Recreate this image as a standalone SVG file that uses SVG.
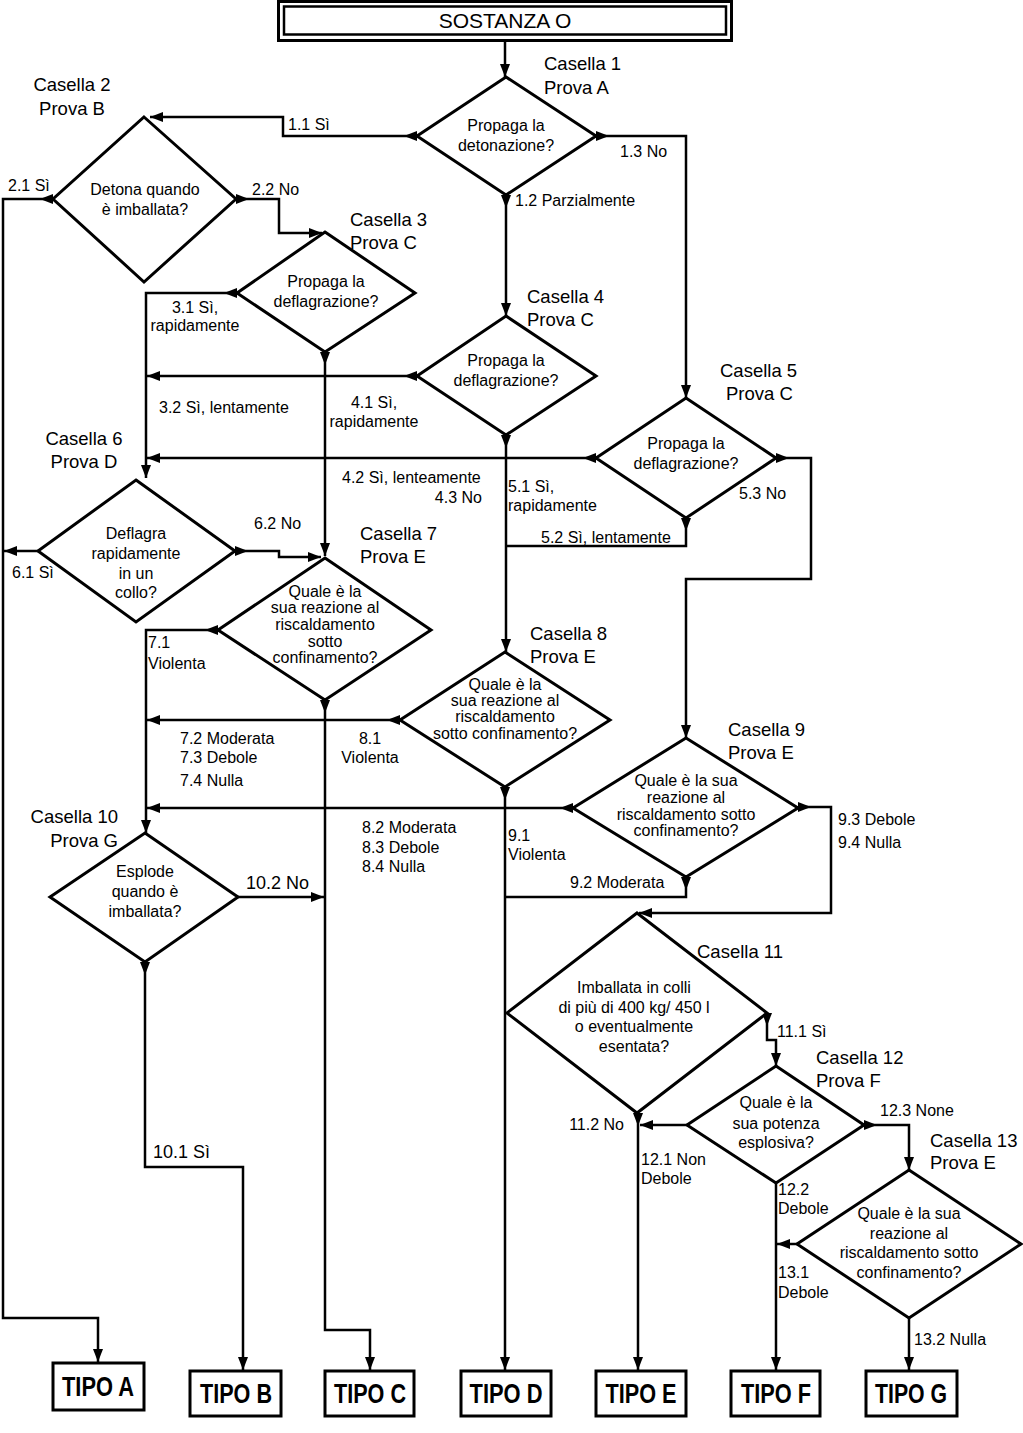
<svg xmlns="http://www.w3.org/2000/svg" width="1023" height="1433" viewBox="0 0 1023 1433">
<style>
.d{fill:#fff;stroke:#000;stroke-width:3}
.b{fill:#fff;stroke:#000;stroke-width:3}
.c{fill:none;stroke:#000;stroke-width:2.5;marker-end:url(#ae)}
.s{marker-start:url(#as)}
.n{marker-end:none}
text{font-family:"Liberation Sans",Arial,sans-serif;fill:#000}
.q{font-size:16px;text-anchor:middle}
.l{font-size:16px}
.h{font-size:18.5px}
.g{font-size:18px}
.tipo{font-size:27px;font-weight:bold;text-anchor:middle}
</style>
<defs>
<marker id="ae" markerUnits="userSpaceOnUse" markerWidth="13" markerHeight="10" refX="13" refY="5" orient="auto"><path d="M0,0 L13,5 L0,10 z" fill="#000"/></marker>
<marker id="as" markerUnits="userSpaceOnUse" markerWidth="13" markerHeight="10" refX="0" refY="5" orient="auto"><path d="M0,0 L13,5 L0,10 z" fill="#000"/></marker>
</defs>
<rect width="1023" height="1433" fill="#fff"/>

<g id="connectors">
<path class="c" d="M505,41 V77"/>
<path class="c s" d="M417,136 H283 V117 H150"/>
<path class="c s" d="M506,195 V316"/>
<path class="c s" d="M596,136 H686 V398"/>
<path class="c s" d="M53,199 H3 V1318 H98 V1362"/>
<path class="c s" d="M236,199 H279 V233 H322"/>
<path class="c s" d="M237,293 H146 V478"/>
<path class="c s" d="M325,352 V556"/>
<path class="c s" d="M417,376 H147"/>
<path class="c s" d="M506,435 V652"/>
<path class="c s" d="M596,458 H147"/>
<path class="c s n" d="M686,518 V546 H506"/>
<path class="c s" d="M776,458 H811 V579 H686 V738"/>
<path class="c" d="M38,551 H4"/>
<path class="c s" d="M235,551 H279 V557 H321"/>
<path class="c s" d="M218,630 H146 V833"/>
<path class="c s" d="M325,700 V1330 H370 V1370"/>
<path class="c s" d="M400,720 H147"/>
<path class="c s" d="M505,787 V1370"/>
<path class="c s" d="M573,808 H147"/>
<path class="c s n" d="M686,877 V897 H506"/>
<path class="c s" d="M798,807 H831 V913 H639"/>
<path class="c" d="M238,897 H324"/>
<path class="c s" d="M145,962 V1167 H243 V1370"/>
<path class="c s" d="M767,1013 V1040 H776 V1066"/>
<path class="c s" d="M638,1113 V1370"/>
<path class="c" d="M687,1125 H640"/>
<path class="c" d="M776,1183 V1370"/>
<path class="c s" d="M864,1125 H909 V1170"/>
<path class="c" d="M797,1244 H777"/>
<path class="c" d="M909,1318 V1370"/>
</g>

<g id="connector-labels">
<text class="l" x="288" y="130">1.1 Sì</text>
<text class="l" x="515" y="206">1.2 Parzialmente</text>
<text class="l" x="620" y="157">1.3 No</text>
<text class="l" x="8" y="191">2.1 Sì</text>
<text class="l" x="252" y="195">2.2 No</text>
<text class="q" x="195" y="313">3.1 Sì,</text>
<text class="q" x="195" y="331">rapidamente</text>
<text class="l" x="159" y="413">3.2 Sì, lentamente</text>
<text class="q" x="374" y="408">4.1 Sì,</text>
<text class="q" x="374" y="427">rapidamente</text>
<text class="l" x="342" y="483">4.2 Sì, lenteamente</text>
<text class="l" x="482" y="503" text-anchor="end">4.3 No</text>
<text class="l" x="508" y="492">5.1 Sì,</text>
<text class="l" x="508" y="511">rapidamente</text>
<text class="l" x="541" y="543">5.2 Sì, lentamente</text>
<text class="l" x="739" y="499">5.3 No</text>
<text class="l" x="12" y="578">6.1 Sì</text>
<text class="l" x="254" y="529">6.2 No</text>
<text class="l" x="148" y="648">7.1</text>
<text class="l" x="148" y="669">Violenta</text>
<text class="l" x="180" y="744">7.2 Moderata</text>
<text class="l" x="180" y="763">7.3 Debole</text>
<text class="l" x="180" y="786">7.4 Nulla</text>
<text class="q" x="370" y="744">8.1</text>
<text class="q" x="370" y="763">Violenta</text>
<text class="l" x="362" y="833">8.2 Moderata</text>
<text class="l" x="362" y="853">8.3 Debole</text>
<text class="l" x="362" y="872">8.4 Nulla</text>
<text class="l" x="508" y="841">9.1</text>
<text class="l" x="508" y="860">Violenta</text>
<text class="l" x="570" y="888">9.2 Moderata</text>
<text class="l" x="838" y="825">9.3 Debole</text>
<text class="l" x="838" y="848">9.4 Nulla</text>
<text class="g" x="246" y="889">10.2 No</text>
<text class="g" x="153" y="1158">10.1 Sì</text>
<text class="l" x="777" y="1037">11.1 Sì</text>
<text class="l" x="624" y="1130" text-anchor="end">11.2 No</text>
<text class="l" x="641" y="1165">12.1 Non</text>
<text class="l" x="641" y="1184">Debole</text>
<text class="l" x="778" y="1195">12.2</text>
<text class="l" x="778" y="1214">Debole</text>
<text class="l" x="880" y="1116">12.3 None</text>
<text class="l" x="778" y="1278">13.1</text>
<text class="l" x="778" y="1298">Debole</text>
<text class="l" x="914" y="1345">13.2 Nulla</text>
</g>

<g id="start">
<rect x="278.5" y="1.5" width="453" height="39" fill="#fff" stroke="#000" stroke-width="3"/>
<rect x="284" y="6.5" width="442" height="28" fill="none" stroke="#000" stroke-width="2.5"/>
<text x="505" y="28" font-size="21" text-anchor="middle">SOSTANZA O</text>
</g>

<g id="casella1">
<polygon class="d" points="506,77 596,136 506,195 417,136"/>
<text class="q" x="506" y="131">Propaga la</text>
<text class="q" x="506" y="151">detonazione?</text>
<text class="h" x="544" y="70">Casella 1</text>
<text class="h" x="544" y="94">Prova A</text>
</g>

<g id="casella2">
<polygon class="d" points="144,117 236,199 144,282 53,199"/>
<text class="q" x="145" y="195">Detona quando</text>
<text class="q" x="145" y="215">è imballata?</text>
<text class="h" x="72" y="91" text-anchor="middle">Casella 2</text>
<text class="h" x="72" y="115" text-anchor="middle">Prova B</text>
</g>

<g id="casella3">
<polygon class="d" points="325,232 415,293 325,352 237,293"/>
<text class="q" x="326" y="287">Propaga la</text>
<text class="q" x="326" y="307">deflagrazione?</text>
<text class="h" x="350" y="226">Casella 3</text>
<text class="h" x="350" y="249">Prova C</text>
</g>

<g id="casella4">
<polygon class="d" points="506,316 596,376 506,435 417,376"/>
<text class="q" x="506" y="366">Propaga la</text>
<text class="q" x="506" y="386">deflagrazione?</text>
<text class="h" x="527" y="303">Casella 4</text>
<text class="h" x="527" y="326">Prova C</text>
</g>

<g id="casella5">
<polygon class="d" points="686,398 776,458 686,518 596,458"/>
<text class="q" x="686" y="449">Propaga la</text>
<text class="q" x="686" y="469">deflagrazione?</text>
<text class="h" x="720" y="377">Casella 5</text>
<text class="h" x="726" y="400">Prova C</text>
</g>

<g id="casella6">
<polygon class="d" points="136,480 235,551 136,622 38,551"/>
<text class="q" x="136" y="539">Deflagra</text>
<text class="q" x="136" y="559">rapidamente</text>
<text class="q" x="136" y="579">in un</text>
<text class="q" x="136" y="598">collo?</text>
<text class="h" x="84" y="445" text-anchor="middle">Casella 6</text>
<text class="h" x="84" y="468" text-anchor="middle">Prova D</text>
</g>

<g id="casella7">
<polygon class="d" points="325,558 431,630 325,700 218,630"/>
<text class="q" x="325" y="597">Quale è la</text>
<text class="q" x="325" y="613">sua reazione al</text>
<text class="q" x="325" y="630">riscaldamento</text>
<text class="q" x="325" y="647">sotto</text>
<text class="q" x="325" y="663">confinamento?</text>
<text class="h" x="360" y="540">Casella 7</text>
<text class="h" x="360" y="563">Prova E</text>
</g>

<g id="casella8">
<polygon class="d" points="505,652 610,720 505,787 400,720"/>
<text class="q" x="505" y="690">Quale è la</text>
<text class="q" x="505" y="706">sua reazione al</text>
<text class="q" x="505" y="722">riscaldamento</text>
<text class="q" x="505" y="739">sotto confinamento?</text>
<text class="h" x="530" y="640">Casella 8</text>
<text class="h" x="530" y="663">Prova E</text>
</g>

<g id="casella9">
<polygon class="d" points="686,738 798,808 686,877 573,808"/>
<text class="q" x="686" y="786">Quale è la sua</text>
<text class="q" x="686" y="803">reazione al</text>
<text class="q" x="686" y="820">riscaldamento sotto</text>
<text class="q" x="686" y="836">confinamento?</text>
<text class="h" x="728" y="736">Casella 9</text>
<text class="h" x="728" y="759">Prova E</text>
</g>

<g id="casella10">
<polygon class="d" points="145,833 238,897 145,962 50,897"/>
<text class="q" x="145" y="877">Esplode</text>
<text class="q" x="145" y="897">quando è</text>
<text class="q" x="145" y="917">imballata?</text>
<text class="h" x="118" y="823" text-anchor="end">Casella 10</text>
<text class="h" x="118" y="847" text-anchor="end">Prova G</text>
</g>

<g id="casella11">
<polygon class="d" points="637,913 767,1013 637,1113 507,1013"/>
<text class="q" x="634" y="993">Imballata in colli</text>
<text class="q" x="634" y="1013">di più di 400 kg/ 450 l</text>
<text class="q" x="634" y="1032">o eventualmente</text>
<text class="q" x="634" y="1052">esentata?</text>
<text class="h" x="697" y="958">Casella 11</text>
</g>

<g id="casella12">
<polygon class="d" points="776,1066 864,1125 776,1183 687,1125"/>
<text class="q" x="776" y="1108">Quale è la</text>
<text class="q" x="776" y="1129">sua potenza</text>
<text class="q" x="776" y="1148">esplosiva?</text>
<text class="h" x="816" y="1064">Casella 12</text>
<text class="h" x="816" y="1087">Prova F</text>
</g>

<g id="casella13">
<polygon class="d" points="909,1170 1021,1244 909,1318 797,1244"/>
<text class="q" x="909" y="1219">Quale è la sua</text>
<text class="q" x="909" y="1239">reazione al</text>
<text class="q" x="909" y="1258">riscaldamento sotto</text>
<text class="q" x="909" y="1278">confinamento?</text>
<text class="h" x="930" y="1147">Casella 13</text>
<text class="h" x="930" y="1169">Prova E</text>
</g>

<g id="tipoA"><rect class="b" x="53" y="1363" width="91" height="47"/><text class="tipo" x="98" y="1396" textLength="72" lengthAdjust="spacingAndGlyphs">TIPO A</text></g>
<g id="tipoB"><rect class="b" x="190" y="1371" width="91" height="45"/><text class="tipo" x="236" y="1403" textLength="72" lengthAdjust="spacingAndGlyphs">TIPO B</text></g>
<g id="tipoC"><rect class="b" x="325" y="1371" width="89" height="45"/><text class="tipo" x="370" y="1403" textLength="72" lengthAdjust="spacingAndGlyphs">TIPO C</text></g>
<g id="tipoD"><rect class="b" x="461" y="1371" width="90" height="45"/><text class="tipo" x="506" y="1403" textLength="73" lengthAdjust="spacingAndGlyphs">TIPO D</text></g>
<g id="tipoE"><rect class="b" x="596" y="1371" width="90" height="45"/><text class="tipo" x="641" y="1403" textLength="71" lengthAdjust="spacingAndGlyphs">TIPO E</text></g>
<g id="tipoF"><rect class="b" x="731" y="1371" width="89" height="45"/><text class="tipo" x="776" y="1403" textLength="70" lengthAdjust="spacingAndGlyphs">TIPO F</text></g>
<g id="tipoG"><rect class="b" x="866" y="1371" width="91" height="45"/><text class="tipo" x="911" y="1403" textLength="72" lengthAdjust="spacingAndGlyphs">TIPO G</text></g>
</svg>
